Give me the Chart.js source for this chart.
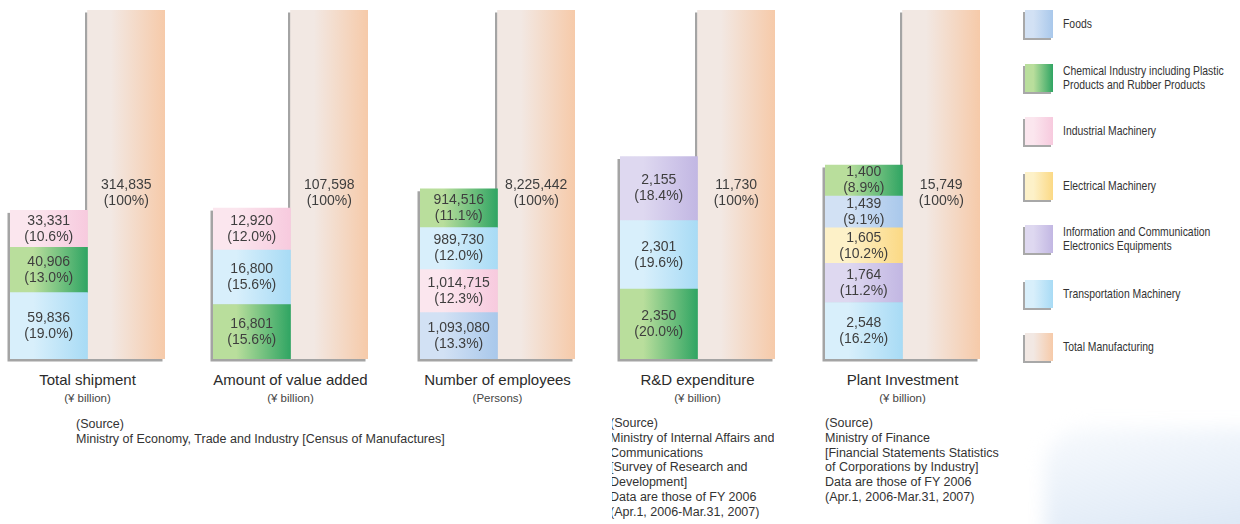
<!DOCTYPE html>
<html>
<head>
<meta charset="utf-8">
<title>Manufacturing shares by industry</title>
<script src="https://cdn.jsdelivr.net/npm/chart.js@4.4.1/dist/chart.umd.min.js"></script>
<style>
  html, body { margin: 0; padding: 0; background: #fff; }
  #page {
    position: relative; width: 1240px; height: 524px; overflow: hidden;
    font-family: "Liberation Sans", Arial, sans-serif; color: #333;
  }
  .haze {
    position: absolute; left: 1045px; top: 428px; width: 240px; height: 140px;
    border-top-left-radius: 40px;
    background: linear-gradient(170deg, rgba(240,245,251,0.5) 0%, rgba(222,233,246,0.8) 55%, rgba(206,222,241,0.95) 100%);
    filter: blur(9px);
  }
  .panel { position: absolute; top: 0; width: 190px; height: 364px; }
  .title { position: absolute; top: 371px; font-size: 15px; color: #2b2b2b; white-space: nowrap; transform: translateX(-50%); }
  .unit { position: absolute; top: 392px; font-size: 11.5px; color: #444; white-space: nowrap; transform: translateX(-50%) scaleY(0.9); }
  .source { position: absolute; font-size: 12.5px; line-height: 14.8px; color: #333; white-space: nowrap; }
  .clip { overflow: hidden; }
  .legend-item { position: absolute; left: 1025px; height: 28px; }
  .swatch { position: absolute; left: 0; top: 0; width: 28px; height: 28px; box-shadow: -2px 2px 0 #a8a8a8; }
  .legend-text {
    position: absolute; left: 38px; top: 50%;
    transform: translateY(-50%) scaleX(0.8); transform-origin: 0 50%;
    font-size: 13px; line-height: 14px; color: #333; white-space: nowrap;
  }
</style>
</head>
<body>
<div id="page">
  <div class="haze"></div>
</div>
<script>
const panelTitles = ['Total shipment', 'Amount of value added', 'Number of employees', 'R&D expenditure', 'Plant Investment'];
const panelUnits = ['(¥ billion)', '(¥ billion)', '(Persons)', '(¥ billion)', '(¥ billion)'];
const totalManufacturing = [314835, 107598, 8225442, 11730, 15749];

const industries = [
  ['Foods'],
  ['Chemical Industry including Plastic', 'Products and Rubber Products'],
  ['Industrial Machinery'],
  ['Electrical Machinery'],
  ['Information and Communication', 'Electronics Equipments'],
  ['Transportation Machinery']
];
const totalLabel = 'Total Manufacturing';

// one value per panel, null where the industry is not shown
const foods = [null, null, 1093080, null, 1439];
const chemicals = [40906, 16801, 914516, 2350, 1400];
const industrialMachinery = [33331, 12920, 1014715, null, null];
const electricalMachinery = [null, null, null, null, 1605];
const infoCommEquipment = [null, null, null, 2155, 1764];
const transportMachinery = [59836, 16800, 989730, 2301, 2548];
const industryValues = [foods, chemicals, industrialMachinery, electricalMachinery, infoCommEquipment, transportMachinery];

// left -> right stops of each bar's horizontal gradient
const industryShades = [
  ['#d2e1f4', '#a9c8eb'],
  ['#b9de9c', '#30a563'],
  ['#fbe6ee', '#f7cade'],
  ['#fdf1c8', '#fbd985'],
  ['#ded8f0', '#c2b7e3'],
  ['#d8effb', '#a8dbf5']
];
const totalShade = ['#f2e8e3', '#f6caa9'];

const panelLeft = [0, 203, 410, 610, 815];

const page = document.getElementById('page');

function shadeFill(shade) {
  return (c) => {
    const chart = c.chart;
    const area = chart.chartArea;
    if (!area) return shade[1];
    const x = chart.scales.x.getPixelForValue(c.dataIndex);
    const half = (area.right - area.left) / 4;
    const g = chart.ctx.createLinearGradient(x - half, 0, x + half, 0);
    g.addColorStop(0, shade[0]);
    g.addColorStop(0.3, shade[0]);
    g.addColorStop(1, shade[1]);
    return g;
  };
}

// grey silhouette offset down-left behind both columns
const columnShadow = {
  id: 'columnShadow',
  beforeDatasetsDraw(chart) {
    const cols = {};
    chart.data.datasets.forEach((ds, d) => {
      chart.getDatasetMeta(d).data.forEach((bar, i) => {
        if (ds.data[i] == null) return;
        const top = Math.min(bar.y, bar.base), bottom = Math.max(bar.y, bar.base);
        const c = cols[i] || (cols[i] = { left: bar.x - bar.width / 2, right: bar.x + bar.width / 2, top, bottom });
        c.top = Math.min(c.top, top);
        c.bottom = Math.max(c.bottom, bottom);
      });
    });
    const ctx = chart.ctx;
    ctx.save();
    ctx.fillStyle = '#a4a4a4';
    Object.values(cols).forEach(c => ctx.fillRect(c.left - 2.5, c.top + 2.5, c.right - c.left, c.bottom - c.top));
    ctx.restore();
  }
};

// value and share printed inside every block
const blockLabels = {
  id: 'blockLabels',
  afterDatasetsDraw(chart, args, opts) {
    const ctx = chart.ctx;
    const total = opts.total;
    ctx.save();
    ctx.font = '14px "Liberation Sans", Arial, sans-serif';
    ctx.fillStyle = '#3e3e3e';
    ctx.textAlign = 'center';
    ctx.textBaseline = 'middle';
    chart.data.datasets.forEach((ds, d) => {
      chart.getDatasetMeta(d).data.forEach((bar, i) => {
        const v = ds.data[i];
        if (v == null) return;
        let cy = (bar.y + bar.base) / 2;
        let pct = (v / total * 100).toFixed(1);
        if (ds.isTotal) {
          cy = chart.scales.y.getPixelForValue(v * 0.475);
          pct = '100';
        }
        ctx.fillText(v.toLocaleString('en-US'), bar.x, cy - 8);
        ctx.fillText('(' + pct + '%)', bar.x, cy + 8);
      });
    });
    ctx.restore();
  }
};

panelTitles.forEach((title, p) => {
  const total = totalManufacturing[p];

  // blocks stack largest at the bottom
  const blocks = industryValues
    .map((vals, k) => ({ k, v: vals[p] }))
    .filter(b => b.v != null)
    .sort((a, b) => b.v - a.v);

  const datasets = blocks.map(b => ({
    label: industries[b.k].join(' '),
    data: [b.v, null],
    backgroundColor: shadeFill(industryShades[b.k])
  }));
  datasets.push({
    label: totalLabel,
    data: [null, total],
    isTotal: true,
    backgroundColor: shadeFill(totalShade)
  });

  const box = document.createElement('div');
  box.className = 'panel';
  box.style.left = panelLeft[p] + 'px';
  const canvas = document.createElement('canvas');
  box.appendChild(canvas);
  page.appendChild(box);

  new Chart(canvas, {
    type: 'bar',
    data: { labels: ['Industries', totalLabel], datasets },
    options: {
      responsive: true,
      maintainAspectRatio: false,
      animation: false,
      layout: { padding: { left: 10, right: 25, top: 10, bottom: 5 } },
      datasets: { bar: { barPercentage: 1, categoryPercentage: 1, borderWidth: 0 } },
      scales: {
        x: { stacked: true, display: false },
        y: { stacked: true, display: false, min: 0, max: total }
      },
      plugins: {
        legend: { display: false },
        tooltip: { enabled: false },
        blockLabels: { total }
      }
    },
    plugins: [columnShadow, blockLabels]
  });

  const centre = panelLeft[p] + 10 + 77.5;
  const t = document.createElement('div');
  t.className = 'title';
  t.style.left = centre + 'px';
  t.textContent = title;
  page.appendChild(t);
  const u = document.createElement('div');
  u.className = 'unit';
  u.style.left = centre + 'px';
  u.textContent = panelUnits[p];
  page.appendChild(u);
});

// legend
const legendCentres = [24, 78, 131, 186, 239, 294, 347];
const legendEntries = industries.map((lines, k) => ({ lines, shade: industryShades[k] }));
legendEntries.push({ lines: [totalLabel], shade: totalShade });
legendEntries.forEach((e, k) => {
  const item = document.createElement('div');
  item.className = 'legend-item';
  item.style.top = (legendCentres[k] - 14) + 'px';
  const sw = document.createElement('div');
  sw.className = 'swatch';
  sw.style.background = 'linear-gradient(90deg, ' + e.shade[0] + ' 0%, ' + e.shade[0] + ' 30%, ' + e.shade[1] + ' 100%)';
  const tx = document.createElement('div');
  tx.className = 'legend-text';
  tx.innerHTML = e.lines.join('<br>');
  item.appendChild(sw);
  item.appendChild(tx);
  page.appendChild(item);
});

// source notes
const sourceNotes = [
  { left: 76, top: 417, clip: false, lines: ['(Source)', 'Ministry of Economy, Trade and Industry [Census of Manufactures]'] },
  { left: 612, top: 416, clip: true, lines: ['(Source)', 'Ministry of Internal Affairs and', 'Communications', '[Survey of Research and', 'Development]', 'Data are those of FY 2006', '(Apr.1, 2006-Mar.31, 2007)'] },
  { left: 825, top: 416, clip: false, lines: ['(Source)', 'Ministry of Finance', '[Financial Statements Statistics', 'of Corporations by Industry]', 'Data are those of FY 2006', '(Apr.1, 2006-Mar.31, 2007)'] }
];
sourceNotes.forEach(n => {
  const d = document.createElement('div');
  d.className = 'source' + (n.clip ? ' clip' : '');
  d.style.left = n.left + 'px';
  d.style.top = n.top + 'px';
  const inner = document.createElement('div');
  if (n.clip) inner.style.marginLeft = '-2px';
  inner.innerHTML = n.lines.join('<br>');
  d.appendChild(inner);
  page.appendChild(d);
});
</script>
</body>
</html>
